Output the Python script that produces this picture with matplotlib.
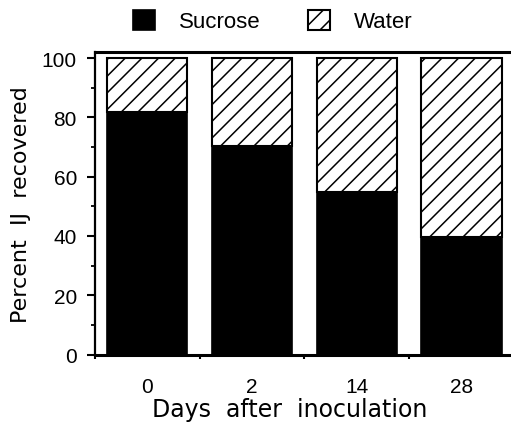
import matplotlib
matplotlib.use("Agg")
import matplotlib.pyplot as plt
from matplotlib.ticker import MultipleLocator, FixedLocator, NullFormatter

categories = ["0", "2", "14", "28"]
sucrose = [82, 70.5, 55, 39.5]
water = [18, 29.5, 45, 60.5]
yticks = [0, 20, 40, 60, 80, 100]

plt.rcParams['font.family'] = ['Liberation Sans', 'DejaVu Sans']
plt.rcParams['hatch.linewidth'] = 1.1

fig = plt.figure(figsize=(5.11, 4.31), dpi=100)
ax = fig.add_axes([95/511, (431-355.5)/431, (511-95)/511, (355.5-53)/431])

x = list(range(len(categories)))
b1 = ax.bar(x, sucrose, width=0.765, color='black', edgecolor='black', linewidth=1.2, label='Sucrose')
b2 = ax.bar(x, water, width=0.765, bottom=sucrose, color='white', edgecolor='black',
            hatch='//', linewidth=1.5, label='Water')

ax.set_xlim(-0.5, 3.473)
ax.set_ylim(0, 102.1)

ax.spines['right'].set_visible(False)
ax.spines['left'].set_linewidth(1.6)
ax.spines['top'].set_linewidth(2.2)
ax.spines['bottom'].set_linewidth(2.2)

ax.yaxis.set_major_locator(FixedLocator(yticks))
ax.yaxis.set_minor_locator(MultipleLocator(10))
ax.tick_params(axis='y', which='major', direction='out', length=6, width=1.5, pad=7, labelsize=15)
ax.tick_params(axis='y', which='minor', direction='out', length=3, width=1.3)

ax.xaxis.set_major_locator(FixedLocator([-0.5, 0.5, 1.5, 2.5]))
ax.xaxis.set_major_formatter(NullFormatter())
ax.xaxis.set_minor_locator(FixedLocator(x))
ax.set_xticklabels(categories, minor=True)
ax.tick_params(axis='x', which='major', direction='out', length=3, width=1.5)
ax.tick_params(axis='x', which='minor', length=0, pad=16, labelsize=15)

ax.set_xlabel("Days  after  inoculation", fontsize=17, family=['DejaVu Sans'])
ax.xaxis.label.set_verticalalignment('baseline')
ax.xaxis.set_label_coords(0.469, -0.203)
ax.set_ylabel("Percent  IJ  recovered", fontsize=16, family=['DejaVu Sans'], labelpad=8)

fig.legend(handles=[b1, b2], labels=['Sucrose', 'Water'], ncol=2, loc='center',
           bbox_to_anchor=(0.534, 0.949), frameon=False, fontsize=16,
           handlelength=1.0, handleheight=1.0, handletextpad=1.1, columnspacing=2.1)

fig.savefig("out.png", dpi=100)
